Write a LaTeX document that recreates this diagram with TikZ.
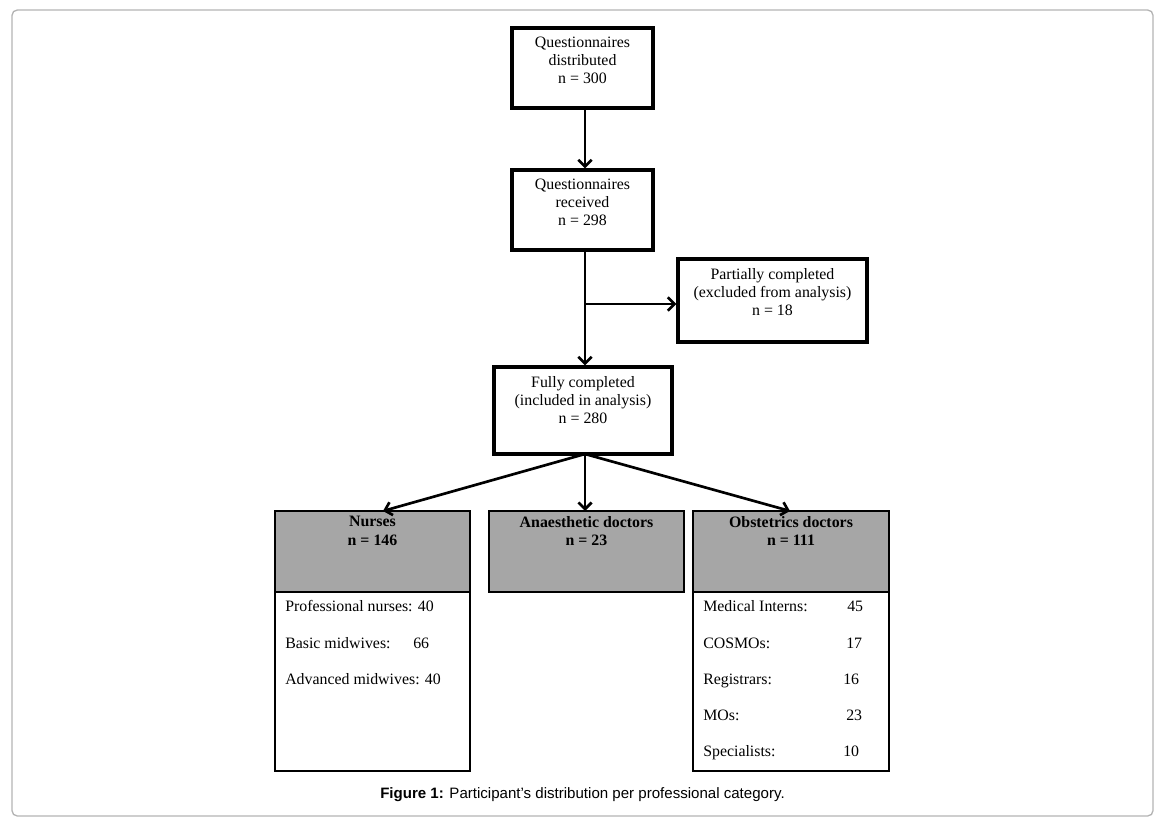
\documentclass[tikz,border=0pt]{standalone}
\usepackage{fontspec}
\setmainfont{Liberation Serif}
\newfontfamily\capfont{Liberation Sans}
\usetikzlibrary{arrows.meta}
\definecolor{boxgray}{HTML}{A6A6A6}
\definecolor{framegray}{HTML}{B4B4B4}
\begin{document}
\begin{tikzpicture}[x=0.75pt,y=-0.75pt,
  mainbox/.style={draw,line width=2.5pt,rectangle,inner sep=0pt},
  graybox/.style={draw,line width=1.4pt,fill=boxgray,rectangle,inner sep=0pt},
  listbox/.style={draw,line width=0.8pt,rectangle,inner sep=0pt},
  btxt/.style={anchor=north,align=center,inner sep=0pt,font=\fontsize{11.9}{13.5}\selectfont},
  gtxt/.style={anchor=north,align=center,inner sep=0pt,font=\fontsize{11.9}{14}\selectfont\bfseries},
  ltxt/.style={anchor=base west,inner sep=0pt,font=\fontsize{11.9}{13.5}\selectfont},
  flow/.style={line width=2pt,-{Straight Barb[length=5pt,width=10pt,line width=2pt]}},
  plain/.style={line width=2pt}
]
\useasboundingbox (0,0) rectangle (1160,821);
\draw[framegray,line width=1pt,rounded corners=4pt] (12,10) rectangle (1153,816);

% boxes
\node[mainbox,minimum width=141*0.75pt,minimum height=80*0.75pt] (dist) at (582.5,68) {};
\node[btxt] (distT) at (582.5,37) {Questionnaires\\distributed\\n = 300};

\node[mainbox,minimum width=141*0.75pt,minimum height=80*0.75pt] (recv) at (582.5,210) {};
\node[btxt] (recvT) at (582.5,179) {Questionnaires\\received\\n = 298};

\node[mainbox,minimum width=189*0.75pt,minimum height=83*0.75pt] (part) at (772.5,300.5) {};
\node[btxt] (partT) at (772.5,268) {Partially completed\\(excluded from analysis)\\n = 18};

\node[mainbox,minimum width=178*0.75pt,minimum height=87*0.75pt] (full) at (583,410.5) {};
\node[btxt] (fullT) at (583,376) {Fully completed\\(included in analysis)\\n = 280};

% lower boxes
\node[listbox,minimum width=195*0.75pt,minimum height=179*0.75pt] (nurL) at (372.5,681.5) {};
\node[graybox,minimum width=195*0.75pt,minimum height=81*0.75pt] (nur) at (372.5,551.5) {};
\node[gtxt] (nurT) at (372.5,516) {Nurses\\n = 146};

\node[graybox,minimum width=195*0.75pt,minimum height=81*0.75pt] (ana) at (586.5,551.5) {};
\node[gtxt] (anaT) at (586.5,516) {Anaesthetic doctors\\n = 23};

\node[listbox,minimum width=196*0.75pt,minimum height=179*0.75pt] (obsL) at (791,681.5) {};
\node[graybox,minimum width=196*0.75pt,minimum height=81*0.75pt] (obs) at (791,551.5) {};
\node[gtxt] (obsT) at (791,516) {Obstetrics doctors\\n = 111};

% list texts
\node[ltxt] (n1) at (285,611) {Professional nurses: 40};
\node[ltxt] (n2) at (285,648) {Basic midwives:};
\node[ltxt] (n2v) at (413,648) {66};
\node[ltxt] (n3) at (285,684) {Advanced midwives: 40};

\node[ltxt] (o1) at (703,611) {Medical Interns:};
\node[ltxt] (o1v) at (847,611) {45};
\node[ltxt] (o2) at (703,648) {COSMOs:};
\node[ltxt] (o2v) at (846,648) {17};
\node[ltxt] (o3) at (703,684) {Registrars:};
\node[ltxt] (o3v) at (843,684) {16};
\node[ltxt] (o4) at (703,720) {MOs:};
\node[ltxt] (o4v) at (846,720) {23};
\node[ltxt] (o5) at (703,756) {Specialists:};
\node[ltxt] (o5v) at (843,756) {10};

% connectors
\draw[flow] (dist.south -| 585,0) -- (recv.north -| 585,0);
\draw[flow] (recv.south -| 585,0) -- (full.north -| 585,0);
\coordinate (br) at (585,304);
\draw[flow] (br) -- (br -| part.west);
\coordinate (fs) at (585,454);
\draw[flow] (fs) -- (383,511);
\draw[flow] (fs) -- (585,511);
\draw[flow] (fs) -- (790,511);

% caption
\node[inner sep=0pt,font=\capfont\fontsize{11.3}{13}\selectfont] (cap) at (582.5,795) {\textbf{Figure 1:} Participant’s distribution per professional category.};
\end{tikzpicture}
\end{document}
